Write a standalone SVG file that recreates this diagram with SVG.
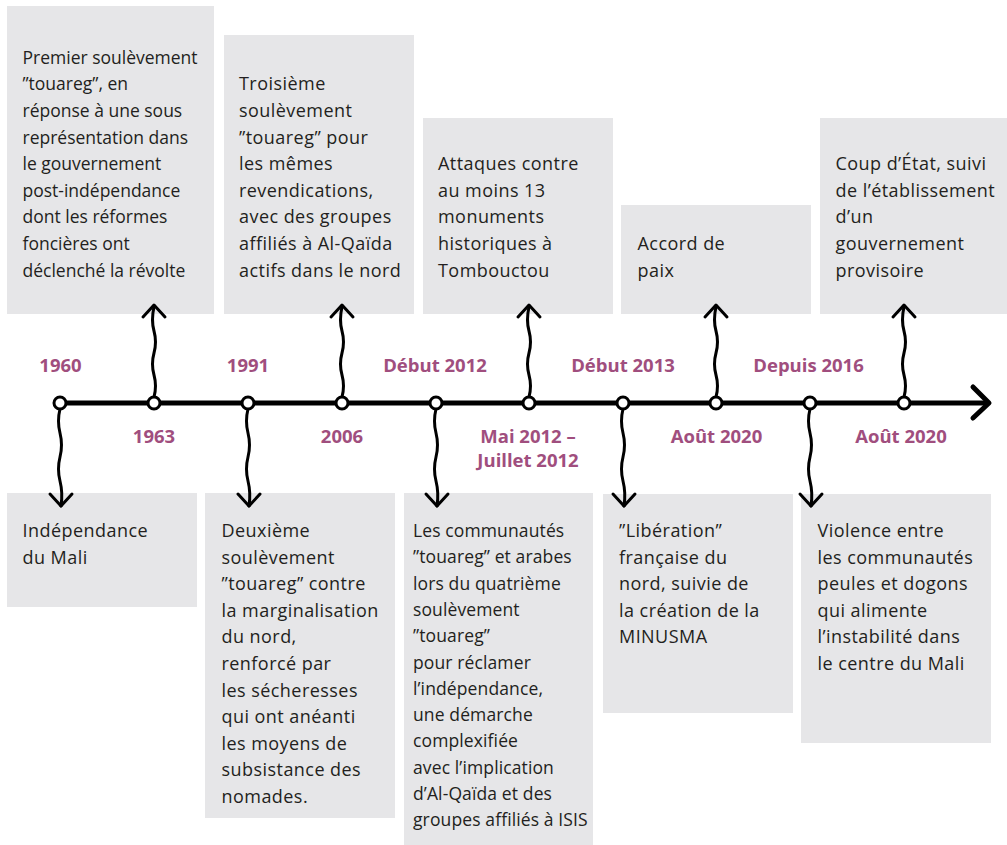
<svg xmlns="http://www.w3.org/2000/svg" width="1007" height="845" viewBox="0 0 1007 845">
<style>
.box{fill:#e6e6e8}
.t{font-family:"Open Sans","Noto Sans",sans-serif;font-size:18px;letter-spacing:0.45px;fill:#231f20}
.t1{font-size:17.5px;letter-spacing:0}
.t3{font-size:17.5px;letter-spacing:0.12px}
.d{font-family:"Open Sans","Noto Sans",sans-serif;font-size:18.5px;font-weight:700;fill:#a04e7e;text-anchor:middle}
.w{fill:none;stroke:#000;stroke-width:3;stroke-linecap:round;stroke-linejoin:round}
.dot{fill:#fff;stroke:#000;stroke-width:3}
</style>
<defs>
<g id="up"><path class="w" d="M0,-6 q3,-11 0,-22 t0,-22 t0,-22 t0,-24"/><path class="w" d="M-11,-86 L0,-98 L11,-86"/></g>
<g id="down"><path class="w" d="M0,6 q-3,12 0,24 t0,24 t0,24 t1,25"/><path class="w" d="M-10,91 L1,103 L12,91"/></g>
</defs>
<rect width="1007" height="845" fill="#fff"/>

<g id="n1963"><rect class="box" x="7" y="6" width="207" height="308"/>
<text class="t t1"><tspan x="22.5" y="63.7">Premier soulèvement</tspan><tspan x="22.5" y="90.3">”touareg”, en</tspan><tspan x="22.5" y="116.9">réponse à une sous</tspan><tspan x="22.5" y="143.5">représentation dans</tspan><tspan x="22.5" y="170.1">le gouvernement</tspan><tspan x="22.5" y="196.7">post-indépendance</tspan><tspan x="22.5" y="223.3">dont les réformes</tspan><tspan x="22.5" y="249.9">foncières ont</tspan><tspan x="22.5" y="276.5">déclenché la révolte</tspan></text>
<text class="d" x="154" y="443">1963</text></g>

<g id="n2006"><rect class="box" x="224" y="35" width="190" height="279"/>
<text class="t"><tspan x="239" y="90.3">Troisième</tspan><tspan x="239" y="116.9">soulèvement</tspan><tspan x="239" y="143.5">”touareg” pour</tspan><tspan x="239" y="170.1">les mêmes</tspan><tspan x="239" y="196.7">revendications,</tspan><tspan x="239" y="223.3">avec des groupes</tspan><tspan x="239" y="249.9">affiliés à Al-Qaïda</tspan><tspan x="239" y="276.5">actifs dans le nord</tspan></text>
<text class="d" x="342" y="443">2006</text></g>

<g id="nmai2012"><rect class="box" x="423" y="118" width="190" height="196"/>
<text class="t"><tspan x="438" y="170.1">Attaques contre</tspan><tspan x="438" y="196.7">au moins 13</tspan><tspan x="438" y="223.3">monuments</tspan><tspan x="438" y="249.9">historiques à</tspan><tspan x="438" y="276.5">Tombouctou</tspan></text>
<text class="d" x="528" y="443">Mai 2012 –</text><text class="d" x="528" y="467">Juillet 2012</text></g>

<g id="naout2020a"><rect class="box" x="621" y="205" width="190" height="109"/>
<text class="t"><tspan x="637.5" y="249.9">Accord de</tspan><tspan x="637.5" y="276.5">paix</tspan></text>
<text class="d" x="716.5" y="443">Août 2020</text></g>

<g id="naout2020b"><rect class="box" x="820" y="118" width="187" height="196"/>
<text class="t"><tspan x="835.5" y="170.1">Coup d’État, suivi</tspan><tspan x="835.5" y="196.7">de l’établissement</tspan><tspan x="835.5" y="223.3">d’un</tspan><tspan x="835.5" y="249.9">gouvernement</tspan><tspan x="835.5" y="276.5">provisoire</tspan></text>
<text class="d" x="901" y="443">Août 2020</text></g>

<g id="n1960"><rect class="box" x="7" y="493" width="190" height="114"/>
<text class="t"><tspan x="22.5" y="537">Indépendance</tspan><tspan x="22.5" y="563.6">du Mali</tspan></text>
<text class="d" x="60.5" y="372">1960</text></g>

<g id="n1991"><rect class="box" x="205" y="493" width="190" height="325"/>
<text class="t"><tspan x="221.5" y="537">Deuxième</tspan><tspan x="221.5" y="563.6">soulèvement</tspan><tspan x="221.5" y="590.2">”touareg” contre</tspan><tspan x="221.5" y="616.8">la marginalisation</tspan><tspan x="221.5" y="643.4">du nord,</tspan><tspan x="221.5" y="670">renforcé par</tspan><tspan x="221.5" y="696.6">les sécheresses</tspan><tspan x="221.5" y="723.2">qui ont anéanti</tspan><tspan x="221.5" y="749.8">les moyens de</tspan><tspan x="221.5" y="776.4">subsistance des</tspan><tspan x="221.5" y="803">nomades.</tspan></text>
<text class="d" x="248" y="372">1991</text></g>

<g id="ndebut2012"><rect class="box" x="404" y="493" width="189" height="352"/>
<text class="t t3"><tspan x="413" y="537">Les communautés</tspan><tspan x="413" y="563.3">”touareg” et arabes</tspan><tspan x="413" y="589.6">lors du quatrième</tspan><tspan x="413" y="615.9">soulèvement</tspan><tspan x="413" y="642.2">”touareg”</tspan><tspan x="413" y="668.5">pour réclamer</tspan><tspan x="413" y="694.8">l’indépendance,</tspan><tspan x="413" y="721.1">une démarche</tspan><tspan x="413" y="747.4">complexifiée</tspan><tspan x="413" y="773.7">avec l’implication</tspan><tspan x="413" y="800">d’Al-Qaïda et des</tspan><tspan x="413" y="826.3">groupes affiliés à ISIS</tspan></text>
<text class="d" x="435" y="372">Début 2012</text></g>

<g id="ndebut2013"><rect class="box" x="603" y="494" width="190" height="219"/>
<text class="t"><tspan x="619" y="537">”Libération”</tspan><tspan x="619" y="563.6">française du</tspan><tspan x="619" y="590.2">nord, suivie de</tspan><tspan x="619" y="616.8">la création de la</tspan><tspan x="619" y="643.4">MINUSMA</tspan></text>
<text class="d" x="623" y="372">Début 2013</text></g>

<g id="ndepuis2016"><rect class="box" x="801" y="494" width="190" height="249"/>
<text class="t"><tspan x="817.5" y="537">Violence entre</tspan><tspan x="817.5" y="563.6">les communautés</tspan><tspan x="817.5" y="590.2">peules et dogons</tspan><tspan x="817.5" y="616.8">qui alimente</tspan><tspan x="817.5" y="643.4">l’instabilité dans</tspan><tspan x="817.5" y="670">le centre du Mali</tspan></text>
<text class="d" x="808.5" y="372">Depuis 2016</text></g>

<g id="connectors">
<path d="M60,403 L987,403" fill="none" stroke="#000" stroke-width="5" stroke-linecap="round"/>
<path d="M973,387 L989,403 L973,418" fill="none" stroke="#000" stroke-width="5" stroke-linecap="round" stroke-linejoin="round"/>
<use href="#down" x="60" y="403"/>
<use href="#up" x="154" y="403"/>
<use href="#down" x="248" y="403"/>
<use href="#up" x="342" y="403"/>
<use href="#down" x="436" y="403"/>
<use href="#up" x="529" y="403"/>
<use href="#down" x="623" y="403"/>
<use href="#up" x="716" y="403"/>
<use href="#down" x="810" y="403"/>
<use href="#up" x="904" y="403"/>
<circle class="dot" cx="60" cy="403" r="6"/>
<circle class="dot" cx="154" cy="403" r="6"/>
<circle class="dot" cx="248" cy="403" r="6"/>
<circle class="dot" cx="342" cy="403" r="6"/>
<circle class="dot" cx="436" cy="403" r="6"/>
<circle class="dot" cx="529" cy="403" r="6"/>
<circle class="dot" cx="623" cy="403" r="6"/>
<circle class="dot" cx="716" cy="403" r="6"/>
<circle class="dot" cx="810" cy="403" r="6"/>
<circle class="dot" cx="904" cy="403" r="6"/>
</g>
</svg>
